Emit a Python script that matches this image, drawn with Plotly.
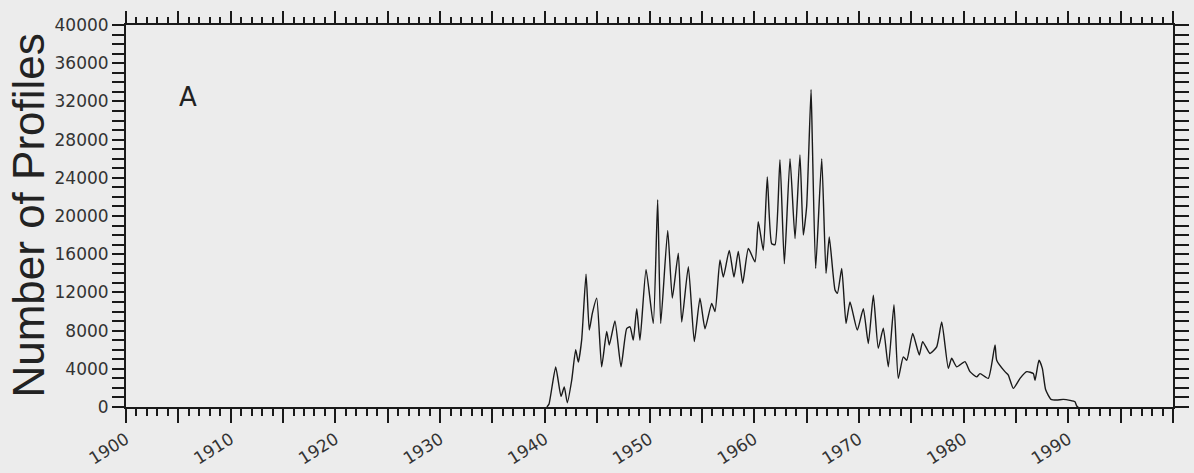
import plotly.graph_objects as go

# Data (year, number of profiles)
years = [1940.2, 1940.40, 1941.04, 1941.55, 1941.86, 1942.15, 1942.57, 1942.95, 1943.20, 1943.52,
         1943.94, 1944.25, 1944.54, 1944.96, 1945.43, 1945.91, 1946.16, 1946.70, 1947.28, 1947.82,
         1948.14, 1948.45, 1948.78, 1949.09, 1949.67, 1950.36, 1950.78, 1951.07, 1951.74, 1952.18,
         1952.75, 1953.08, 1953.71, 1954.28, 1954.82, 1955.30, 1955.94, 1956.26, 1956.73, 1957.05,
         1957.62, 1958.07, 1958.48, 1958.90, 1959.44, 1960.08, 1960.39, 1960.87, 1961.25, 1961.67,
         1961.99, 1962.46, 1962.88, 1963.42, 1963.90, 1964.37, 1964.69, 1965.01, 1965.43, 1965.55,
         1965.87, 1966.45, 1966.86, 1967.17, 1967.72, 1967.95, 1968.36, 1968.77, 1969.15, 1969.85,
         1970.42, 1970.90, 1971.38, 1971.85, 1972.33, 1972.81, 1973.35, 1973.76, 1974.24, 1974.57,
         1975.14, 1975.77, 1976.09, 1976.79, 1977.43, 1977.91, 1978.54, 1978.86, 1979.34, 1980.13,
         1980.61, 1981.25, 1981.57, 1982.36, 1983.00, 1983.16, 1983.95, 1984.27, 1984.75, 1985.39,
         1986.03, 1986.66, 1986.82, 1987.20, 1987.52, 1987.84, 1988.35, 1988.89, 1989.52, 1990.16,
         1990.64, 1990.80, 1990.95]
profiles = [0, 300, 4200, 1100, 2100, 450, 2800, 6000, 4700, 7000,
            13900, 8050, 9800, 11400, 4200, 7900, 6500, 9000, 4200, 8200,
            8400, 7000, 10300, 7000, 14400, 8750, 21700, 8750, 18500, 11400,
            16100, 8900, 14700, 6850, 11400, 8200, 10850, 10000, 15400, 13600,
            16400, 13600, 16300, 12950, 16600, 15200, 19400, 16400, 24100, 17100,
            17000, 25900, 15000, 26000, 17650, 26400, 18000, 21000, 33250, 27950,
            14500, 26000, 14000, 17800, 12250, 11900, 14500, 8750, 11000, 8050,
            10300, 6650, 11700, 6150, 8250, 4200, 10700, 3000, 5250, 4900,
            7700, 5450, 6850, 5600, 6300, 8900, 4050, 5100, 4200, 4750,
            3700, 3150, 3500, 3000, 6500, 4900, 3700, 3350, 1950, 3000,
            3700, 3500, 2800, 4900, 4050, 1800, 800, 730, 800, 700,
            550, 100, 0]

x_major = list(range(1900, 2001, 5))
x_labels = [str(v) if v % 10 == 0 and v < 2000 else "" for v in x_major]
y_major = list(range(0, 40001, 4000))
y_labels = [str(v) for v in y_major]

BG = "#ececec"
INK = "#1a1a1a"

fig = go.Figure()
fig.add_trace(go.Scatter(x=years, y=profiles, mode="lines",
                         line=dict(color=INK, width=1.4, shape="spline", smoothing=0.5),
                         showlegend=False))
# invisible trace to activate the top and right axes
fig.add_trace(go.Scatter(x=[1900], y=[0], xaxis="x2", yaxis="y2", mode="markers",
                         marker=dict(opacity=0), showlegend=False, hoverinfo="skip"))

fig.update_layout(
    width=1194, height=473,
    paper_bgcolor=BG, plot_bgcolor=BG,
    margin=dict(l=126, r=21, t=25, b=66, autoexpand=False),
    font=dict(family="DejaVu Sans", color=INK),
    xaxis=dict(range=[1900, 2000], tickmode="array", tickvals=x_major, ticktext=x_labels,
               tickangle=-32, ticks="outside", ticklen=14, tickwidth=2, tickcolor=INK,
               tickfont=dict(size=17, family="DejaVu Sans", color="#333"),
               automargin=False,
               showline=True, linecolor=INK, linewidth=2, showgrid=False, zeroline=False,
               minor=dict(dtick=1, ticks="outside", ticklen=7, tickwidth=1.5, tickcolor=INK,
                          showgrid=False)),
    xaxis2=dict(range=[1900, 2000], overlaying="x", side="top", tickmode="array",
                tickvals=x_major, showticklabels=False, ticks="outside", ticklen=12,
                tickwidth=2, tickcolor=INK, showline=True, linecolor=INK, linewidth=2,
                showgrid=False, zeroline=False, automargin=False,
                minor=dict(dtick=1, ticks="outside", ticklen=6, tickwidth=1.5,
                           tickcolor=INK, showgrid=False)),
    yaxis=dict(range=[0, 40000], tickmode="array", tickvals=y_major, ticktext=y_labels,
               ticks="outside", ticklen=12, tickwidth=1.5, tickcolor=INK,
               tickfont=dict(size=17, family="DejaVu Sans", color="#333"),
               automargin=False,
               showline=True, linecolor=INK, linewidth=2, showgrid=False, zeroline=False,
               minor=dict(dtick=1000, ticks="outside", ticklen=12, tickwidth=1.5,
                          tickcolor=INK, showgrid=False)),
    yaxis2=dict(range=[0, 40000], overlaying="y", side="right", dtick=1000,
                showticklabels=False, ticks="outside", ticklen=14, tickwidth=1.5,
                tickcolor=INK, showline=True, linecolor=INK, linewidth=2,
                showgrid=False, zeroline=False, automargin=False),
    annotations=[
        dict(text="Number of Profiles", xref="paper", yref="paper",
             x=-0.094, y=0.5, textangle=-90, showarrow=False,
             font=dict(size=44, family="Liberation Sans", color="#222"),
             xanchor="center", yanchor="middle"),
        dict(text="A", xref="x", yref="y", x=1905.9, y=32500, showarrow=False,
             font=dict(size=26, family="DejaVu Sans", color="#222"),
             xanchor="center", yanchor="middle"),
    ],
)

fig.write_html("out.html", config={"displayModeBar": False},
               post_script="document.body.style.margin='0';"
                           "document.body.style.overflow='hidden';")
